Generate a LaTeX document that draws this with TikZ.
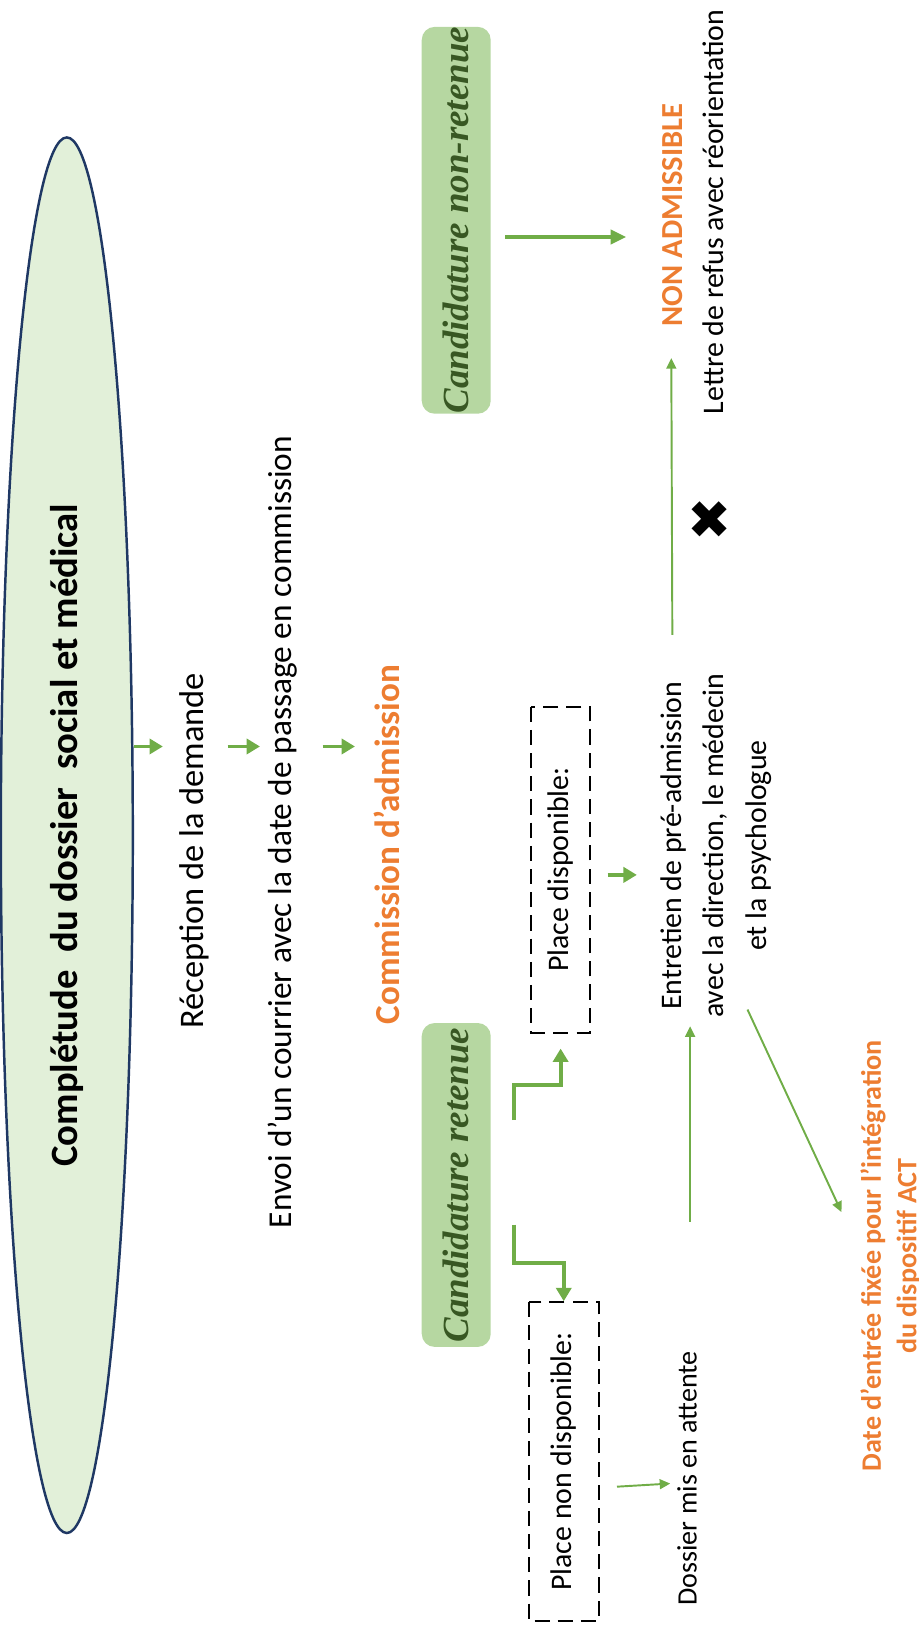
\documentclass[tikz,border=0pt]{standalone}
\usepackage{fontspec}
\setmainfont{Carlito}
\newfontfamily\candfont{Liberation Serif}
\newfontfamily\symfont{DejaVu Sans}
\usepackage{tikz}
\usetikzlibrary{positioning,shapes.geometric,arrows.meta}
\definecolor{arrgreen}{HTML}{70AD47}
\definecolor{admorange}{HTML}{ED7D31}
\definecolor{cutorange}{HTML}{C55A11}
\definecolor{ellborder}{HTML}{1F3864}
\definecolor{ellfill}{HTML}{E2F0D9}
\definecolor{candfill}{HTML}{B6D7A1}
\definecolor{canddark}{HTML}{385723}

\begin{document}
\begin{tikzpicture}[x=0.10443mm, y=-0.10443mm,
txt/.style={rotate=90, inner sep=0, align=center, font=\fontsize{8.5}{12.2}\selectfont},
otxt/.style={rotate=90, inner sep=0, align=center, text=admorange},
candbox/.style={rotate=90, fill=candfill, rounded corners=1.3mm, text=canddark, inner sep=0,
  font=\candfont\bfseries\itshape\fontsize{10.5}{12}\selectfont, minimum height=6.9mm},
dashbox/.style={rotate=90, draw, line width=0.55pt, dash pattern=on 4.3pt off 2.3pt, inner sep=0,
  font=\fontsize{8.5}{12}\selectfont},
garrow/.style={draw=arrgreen, line width=1.1pt, -{Triangle[length=3.8pt,width=4.3pt]}},
thinarrow/.style={draw=arrgreen, line width=0.55pt, -{Triangle[length=3pt,width=2.8pt]}}]
\useasboundingbox (0,0) rectangle (880,1568);

% title ellipse and cut heading
\node[ellipse, rotate=90, draw=ellborder, line width=0.7pt, fill=ellfill, inner sep=0,
  minimum width=139.6mm, minimum height=13.2mm, font=\bfseries\fontsize{11}{13}\selectfont]
  (ell) at (64,800) {Complétude\ \ du dossier\ \ social et médical};
\begin{scope}
\clip (0,0) rectangle (880,1568);
\node[rotate=90, inner sep=0, anchor=base east, text=cutorange, font=\bfseries\fontsize{12}{14}\selectfont]
  (cut) at (-0.5,1146) {Procédure d’admission};
\end{scope}

% first steps
\node[txt, font=\fontsize{9.8}{12}\selectfont] (rec) at (186,815) {Réception de la demande};
\node[txt, font=\fontsize{9.5}{12}\selectfont] (env) at (271,797) {Envoi d’un courrier avec la date de passage en commission};
\node[otxt, font=\bfseries\fontsize{10}{12}\selectfont] (com) at (371,809) {Commission d’admission};

% decisions
\node[candbox, minimum width=38.7mm] (nonret) at (437,211) {Candidature non-retenue};
\node[candbox, minimum width=32.4mm] (ret) at (437,1135) {Candidature retenue};
\node[dashbox, minimum width=32.6mm, minimum height=5.85mm] (disp) at (537,833) {Place disponible:};
\node[dashbox, minimum width=31.9mm, minimum height=7mm] (nondisp) at (540,1400) {Place non disponible:};

\node[otxt, font=\bfseries\fontsize{8.7}{10}\selectfont] (nonadm) at (644,206) {NON ADMISSIBLE};
\node[txt] (lettre) at (683,203) {Lettre de refus avec réorientation};
\node[inner sep=0, font=\symfont\fontsize{15}{15}\selectfont] (croix) at (680,498) {✖};
\node[txt] (entr) at (686,810) {Entretien de pré-admission\\avec la direction, le médecin\\et la psychologue};
\node[txt, font=\fontsize{8}{10}\selectfont] (doss) at (658,1416) {Dossier mis en attente};
\node[otxt, font=\bfseries\fontsize{8}{10.1}\selectfont] (date) at (853,1203)
  {Date d’entrée fixée pour l’intégration\\du dispositif ACT};

% arrow ends
\coordinate (a1) at (156,715);
\coordinate (a2s) at (218,715);
\coordinate (a2) at (249,715);
\coordinate (a3s) at (309,715);
\coordinate (a3) at (340,715);
\coordinate (r1) at (492,1073);
\coordinate (r2) at (492,1173);
\coordinate (d1) at (582,838);
\coordinate (d2) at (610,838);
\coordinate (n1) at (484,227);
\coordinate (n2) at (600,227);
\coordinate (e1) at (644,608);
\coordinate (e2) at (643,343);
\coordinate (w1) at (591,1424);
\coordinate (w2) at (642,1421);
\coordinate (w3) at (661,1170);
\coordinate (w4) at (661,983);
\coordinate (f1) at (716,967);
\coordinate (f2) at (806,1161);

\draw[garrow] (ell.south |- a1) -- (a1);
\draw[garrow] (a2s) -- (a2);
\draw[garrow] (a3s) -- (a3);
\draw[garrow, shorten >=1.5mm] (r1) -- ++(0,-34) -| (disp.west);
\draw[garrow] (r2) -- ++(0,37) -| (nondisp.east);
\draw[garrow] (d1) -- (d2);
\draw[garrow, -{Triangle[length=4.5pt,width=4pt]}] (n1) -- (n2);
\draw[thinarrow] (e1) -- (e2);
\draw[thinarrow] (w1) -- (w2);
\draw[thinarrow] (w3) -- (w4);
\draw[thinarrow] (f1) -- (f2);
\end{tikzpicture}
\end{document}
